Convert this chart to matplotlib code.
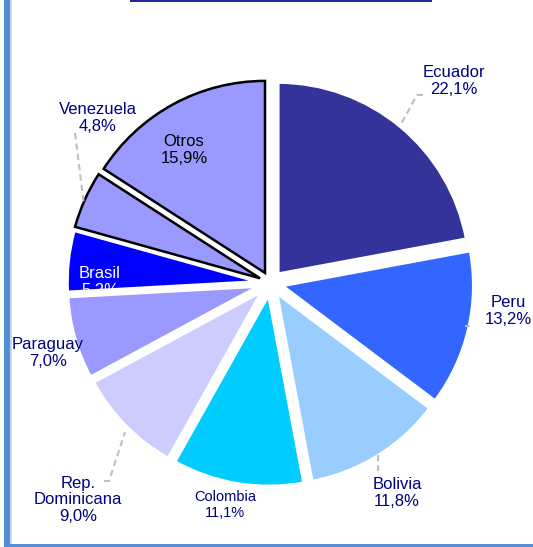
import numpy as np
import matplotlib.pyplot as plt
from matplotlib.patches import Rectangle

plt.rcParams['font.family'] = ['Liberation Sans', 'DejaVu Sans']

# data
countries = ['Ecuador', 'Peru', 'Bolivia', 'Colombia', 'Rep.\nDominicana',
             'Paraguay', 'Brasil', 'Venezuela', 'Otros']
shares = [22.1, 13.2, 11.8, 11.1, 9.0, 7.0, 5.2, 4.8, 15.9]
colors = ['#333399', '#3366FF', '#99CCFF', '#00CCFF', '#CCCCFF',
          '#9999FF', '#0000FF', '#9999FF', '#9999FF']
edges = ['white'] * 7 + ['black', 'black']

W, H = 533, 547
fig = plt.figure(figsize=(W / 100, H / 100), dpi=100)
ax = fig.add_axes([0, 0, 1, 1])

# pie geometry in pixel units (y up); explode is an absolute offset here
cx, cy, R = 270.5, H - 283, 192
wedges, _ = ax.pie(shares, colors=colors, startangle=90, counterclock=False,
                   center=(cx, cy), radius=R, explode=[11.5] * len(shares))
for w, ec in zip(wedges, edges):
    w.set_edgecolor(ec)
    if ec == 'white':
        w.set_linewidth(2.5)
    else:
        w.set_linewidth(1.8)

ax.set_xlim(0, W)
ax.set_ylim(0, H)
ax.set_aspect('equal')
ax.axis('off')

# label positions (pixel, y down): x, y, color, size
label_pos = [(454, 81, '#000080', 12), (508, 311, '#000080', 12),
             (397, 493, '#000080', 12), (225, 505, '#000080', 10.5),
             (78, 500, '#000080', 12), (48, 353, '#000080', 12),
             (100, 282, 'white', 12), (98, 118, '#000080', 12),
             (184, 150, 'black', 12)]
for name, v, (x, y, c, s) in zip(countries, shares, label_pos):
    txt = f"{name}\n{v:.1f}%".replace('.', ',').replace('Rep,', 'Rep.')
    ax.text(x, H - y, txt, ha='center', va='center', color=c, fontsize=s,
            linespacing=1.1)

# leader lines (pixel, y down)
leaders = [[(423, 95), (417, 95), (400, 126)],
           [(470, 326), (465, 326)],
           [(378, 455), (378, 471)],
           [(104, 481), (109, 481), (125, 432)],
           [(75, 133), (84, 205)]]
for pts in leaders:
    xs = [p[0] for p in pts]
    ys = [H - p[1] for p in pts]
    ax.plot(xs, ys, color='#BFBFBF', lw=1.5, ls=(0, (3, 2)))

# frame bits
ax.add_patch(Rectangle((4, 0), 6, H, color='#558ED5', lw=0, clip_on=False))
ax.add_patch(Rectangle((10, 0), 1.5, H, color='#C6D9F1', lw=0, clip_on=False))
ax.add_patch(Rectangle((4, 0), W, 3, color='#558ED5', lw=0, clip_on=False))
ax.add_patch(Rectangle((130, H - 1.5), 302, 1.5, color='#262699', lw=0,
                       clip_on=False))

fig.savefig('out.png', dpi=100)
